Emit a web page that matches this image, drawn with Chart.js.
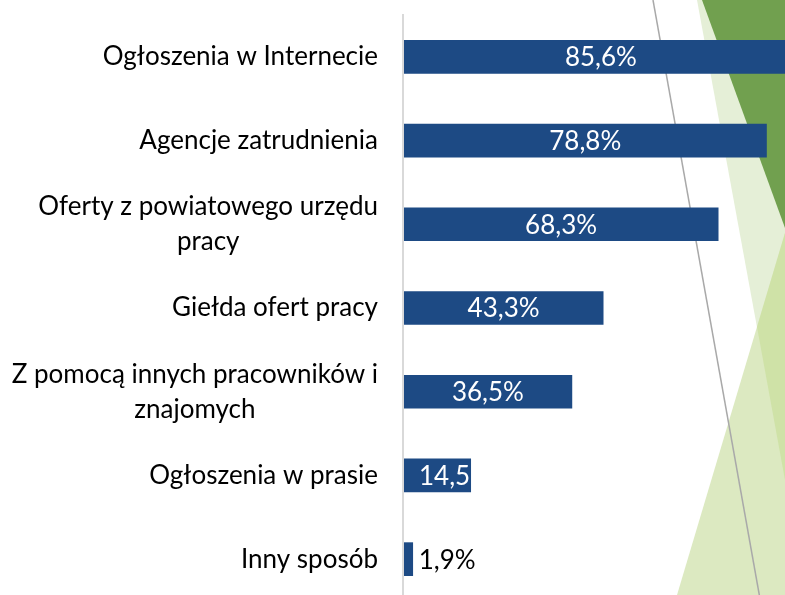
<!DOCTYPE html>
<html><head><meta charset="utf-8">
<script src="https://cdn.jsdelivr.net/npm/chart.js@4/dist/chart.umd.min.js"></script>
<style>html,body{margin:0;padding:0;overflow:hidden;background:#fff;width:785px;height:595px}canvas{position:absolute;left:0;top:0}</style>
</head><body>
<canvas id="c" width="900" height="610"></canvas>
<script>
const categories = [
  ["Ogłoszenia w Internecie"],
  ["Agencje zatrudnienia"],
  ["Oferty z powiatowego urzędu", "pracy"],
  ["Giełda ofert pracy"],
  ["Z pomocą innych pracowników i", "znajomych"],
  ["Ogłoszenia w prasie"],
  ["Inny sposób"]
];
const values = [85.6, 78.8, 68.3, 43.3, 36.5, 14.5, 1.9];
const valueLabels = ["85,6%", "78,8%", "68,3%", "43,3%", "36,5%", "14,5%", "1,9%"];

const FONT = '26px Lato, "Open Sans", sans-serif';

const decor = {
  id: 'decor',
  beforeDraw(chart) {
    const ctx = chart.ctx;
    ctx.save();
    ctx.fillStyle = '#fff';
    ctx.fillRect(0, 0, chart.width, chart.height);
    const poly = (pts, col) => {
      ctx.beginPath();
      ctx.moveTo(pts[0][0], pts[0][1]);
      for (let i = 1; i < pts.length; i++) ctx.lineTo(pts[i][0], pts[i][1]);
      ctx.closePath();
      ctx.fillStyle = col; ctx.fill();
    };
    poly([[697,0],[900,0],[900,850],[785,480]], '#e5efd7');
    poly([[677,595],[785,233],[900,233],[900,610],[677,610]], '#dce9c1');
    poly([[785,233],[757,327],[785,480],[900,480],[900,233]], '#cfe2a7');
    poly([[702,0],[900,0],[900,440],[785,228]], '#71a04f');
    ctx.strokeStyle = '#a9a9a9'; ctx.lineWidth = 1.5;
    ctx.beginPath(); ctx.moveTo(653,0); ctx.lineTo(762,610); ctx.stroke();
    ctx.restore();
  },
  afterDatasetsDraw(chart) {
    const ctx = chart.ctx;
    const ys = chart.scales.y;
    ctx.save();
    ctx.strokeStyle = '#d9d9d9'; ctx.lineWidth = 2;
    ctx.beginPath(); ctx.moveTo(403, 14); ctx.lineTo(403, 610); ctx.stroke();
    ctx.font = FONT;
    ctx.textBaseline = 'middle';
    ctx.fillStyle = '#000';
    categories.forEach((lines, i) => {
      const cy = ys.getPixelForValue(i);
      const widest = Math.max(...lines.map(l => ctx.measureText(l).width));
      const right = 378;
      const lh = 35;
      ctx.textAlign = 'center';
      lines.forEach((l, k) => {
        const y = cy + (k - (lines.length - 1) / 2) * lh;
        ctx.fillText(l, right - widest / 2, y);
      });
    });
    const meta = chart.getDatasetMeta(0);
    meta.data.forEach((bar, i) => {
      const txt = valueLabels[i];
      const w = ctx.measureText(txt).width;
      const x0 = bar.base, x1 = bar.x, cy = bar.y, h = bar.height;
      if (x1 - x0 > 40) {
        ctx.save();
        ctx.beginPath(); ctx.rect(x0, cy - h / 2, x1 - x0, h); ctx.clip();
        ctx.fillStyle = '#fff'; ctx.textAlign = 'center';
        const cx = Math.max((x0 + x1) / 2, x0 + 15 + w / 2);
        ctx.fillText(txt, cx, cy + 1);
        ctx.restore();
      } else {
        ctx.fillStyle = '#000'; ctx.textAlign = 'left';
        ctx.fillText(txt, x1 + 6, cy + 1);
      }
    });
    ctx.restore();
  }
};

new Chart(document.getElementById('c'), {
  type: 'bar',
  data: {
    labels: categories,
    datasets: [{ data: values, backgroundColor: '#1d4a84', borderWidth: 0, barThickness: 33 }]
  },
  options: {
    indexAxis: 'y',
    responsive: false,
    animation: false,
    layout: { padding: { left: 404, right: 36, top: 15, bottom: 9 } },
    scales: {
      x: { display: false, min: 0, max: 100 },
      y: { display: false }
    },
    plugins: { legend: { display: false }, tooltip: { enabled: false } }
  },
  plugins: [decor]
});
</script>
</body></html>
